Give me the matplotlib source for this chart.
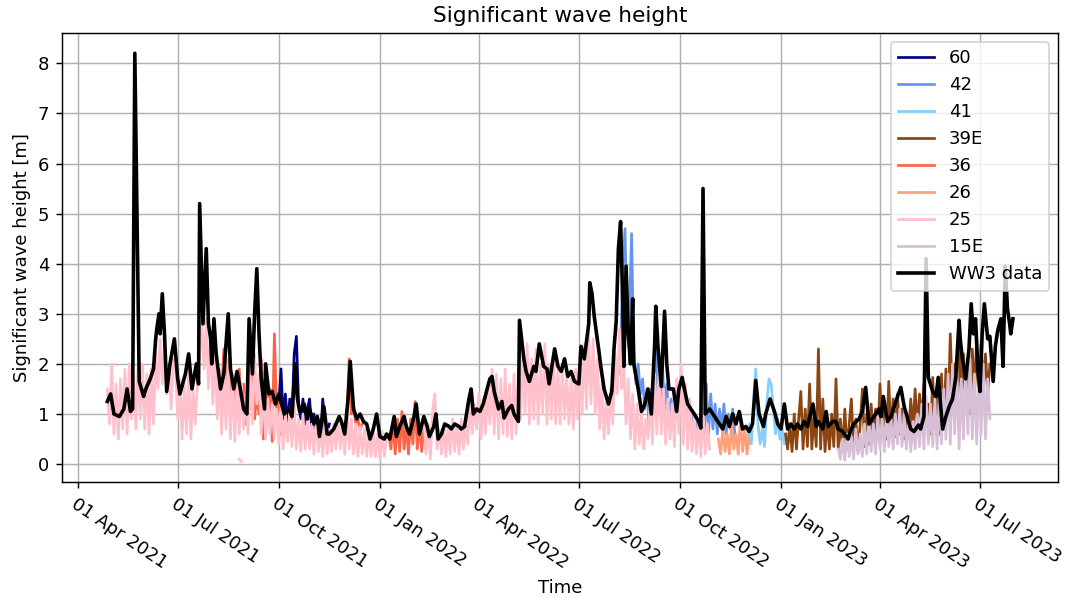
import numpy as np
import pandas as pd
import matplotlib
matplotlib.use("Agg")
import matplotlib.pyplot as plt
import matplotlib.dates as mdates

# all series are counted in days from the first WW3 record
t0 = pd.Timestamp("2021-04-28")
step = 2  # buoy records are resampled to one value every 2 days

# WW3 model hindcast (day offset, Hs in m)
ww3_days = [0, 3, 6, 11, 15, 18, 21, 23, 25, 29,
            33, 35, 39, 42, 44, 45, 47, 48, 50, 52,
            54, 57, 61, 64, 66, 71, 74, 77, 81, 83,
            84, 87, 90, 92, 94, 95, 97, 99, 103, 106,
            110, 112, 115, 118, 121, 124, 127, 129, 132, 134,
            136, 138, 140, 143, 144, 147, 150, 153, 156, 161,
            165, 168, 171, 173, 175, 179, 182, 184, 188, 191,
            193, 197, 200, 202, 206, 211, 213, 216, 219, 221,
            224, 227, 230, 233, 236, 239, 242, 245, 248, 252,
            254, 257, 261, 263, 266, 270, 272, 275, 279, 281,
            284, 288, 291, 293, 297, 299, 301, 304, 307, 311,
            313, 316, 320, 322, 325, 329, 331, 333, 336, 339,
            342, 345, 348, 350, 352, 356, 359, 361, 365, 368,
            370, 374, 375, 379, 381, 384, 388, 390, 393, 397,
            400, 402, 406, 407, 410, 413, 416, 419, 422, 425,
            429, 431, 434, 438, 439, 441, 443, 447, 449, 452,
            456, 459, 461, 463, 465, 467, 469, 470, 472, 474,
            476, 478, 479, 483, 486, 489, 492, 495, 498, 499,
            501, 504, 507, 509, 511, 515, 518, 520, 523, 526,
            528, 531, 534, 538, 540, 542, 544, 548, 551, 554,
            557, 560, 563, 566, 569, 572, 575, 578, 581, 584,
            587, 590, 593, 597, 599, 603, 607, 610, 613, 616,
            619, 622, 625, 628, 631, 634, 637, 642, 645, 647,
            651, 654, 656, 660, 663, 665, 669, 674, 676, 679,
            684, 687, 690, 693, 696, 699, 702, 704, 706, 710,
            713, 716, 719, 722, 725, 729, 731, 734, 738, 740,
            743, 745, 747, 751, 754, 756, 760, 763, 766, 769,
            772, 775, 776, 778, 781, 784, 786, 788, 790, 792,
            794, 796, 798, 801, 803, 806, 808, 810, 813, 815,
            817, 819, 821, 822, 824]
ww3_hs = [1.25, 1.4, 1.0, 0.95, 1.1, 1.5, 1.05, 1.1, 8.2, 1.65,
          1.35, 1.5, 1.7, 1.9, 2.5, 2.7, 3.0, 2.6, 3.4, 2.6,
          1.45, 2.0, 2.5, 1.7, 1.4, 1.8, 2.2, 1.5, 2.0, 1.6,
          5.2, 2.8, 4.3, 2.8, 2.5, 2.0, 2.9, 2.2, 1.5, 1.8,
          3.0, 1.9, 1.5, 1.85, 1.5, 1.1, 1.0, 2.9, 1.8, 3.0,
          3.9, 2.6, 1.7, 1.1, 2.0, 1.4, 1.45, 1.2, 1.4, 1.0,
          1.1, 0.95, 2.0, 1.3, 1.05, 1.2, 0.9, 1.1, 0.8, 0.95,
          0.55, 1.15, 0.6, 0.6, 0.7, 0.95, 0.85, 0.6, 1.3, 2.05,
          1.1, 0.9, 1.0, 0.85, 0.8, 0.5, 0.7, 1.0, 0.55, 0.5,
          0.6, 0.5, 0.95, 0.55, 0.75, 0.95, 0.75, 0.6, 0.95, 1.2,
          0.6, 0.95, 0.75, 0.55, 0.75, 1.0, 0.5, 0.6, 0.8, 0.75,
          0.7, 0.8, 0.75, 0.7, 0.75, 1.3, 1.5, 1.0, 1.1, 1.05,
          1.2, 1.45, 1.7, 1.75, 1.45, 1.1, 1.25, 0.92, 1.1, 1.17,
          1.0, 0.85, 2.87, 2.1, 1.85, 1.65, 1.95, 1.85, 2.4, 1.95,
          1.9, 1.6, 2.15, 2.3, 1.95, 1.85, 2.1, 1.75, 1.85, 1.65,
          1.6, 2.35, 2.1, 2.8, 3.62, 3.4, 2.95, 2.3, 1.95, 1.5,
          1.2, 1.45, 2.3, 2.85, 4.3, 4.84, 3.2, 1.95, 3.95, 2.6,
          2.0, 3.3, 2.0, 1.5, 1.05, 1.2, 1.5, 1.0, 2.4, 3.15,
          2.35, 1.55, 3.05, 2.0, 1.5, 1.5, 1.05, 1.5, 1.73, 1.4,
          1.2, 1.1, 1.0, 0.85, 0.72, 5.5, 1.0, 1.1, 1.0, 0.9,
          0.8, 0.7, 0.95, 0.75, 1.0, 0.8, 1.05, 0.7, 0.75, 0.65,
          0.8, 1.67, 1.0, 0.75, 1.0, 1.3, 1.05, 0.8, 0.7, 1.2,
          0.7, 0.8, 0.7, 0.8, 0.7, 0.85, 0.75, 1.2, 0.75, 0.85,
          0.7, 1.05, 0.75, 0.85, 0.85, 0.7, 0.65, 0.5, 0.65, 0.8,
          0.9, 1.05, 1.53, 0.8, 0.9, 1.0, 1.1, 0.95, 1.35, 0.85,
          0.95, 1.15, 1.35, 1.53, 1.15, 0.85, 0.7, 0.65, 0.78, 0.7,
          0.95, 4.1, 1.73, 1.45, 1.35, 1.73, 0.7, 0.95, 1.15, 1.3,
          1.73, 2.87, 2.5, 2.1, 1.7, 2.3, 3.2, 2.6, 2.9, 1.9,
          1.45, 2.6, 3.2, 2.5, 2.55, 1.65, 2.35, 2.65, 2.9, 1.95,
          3.95, 3.1, 2.8, 2.6, 2.9]

# buoy 60
start_60 = 156
hs_60 = [1.2, 1.9, 0.9, 1.4, 0.8, 1.3, 0.9, 2.2, 2.55, 1.2,
         0.9, 1.3, 0.8, 1.1, 1.3, 0.7, 1.0, 0.6, 0.9, 0.5,
         1.3, 0.7, 0.6, 0.8]

# buoy 42
start_42 = 465
hs_42 = [1.8, 2.2, 4.0, 4.7, 2.6, 3.0, 4.6, 2.2, 1.6, 2.0,
         1.4, 1.7, 1.1, 1.5, 0.75, 1.5, 1.0, 2.5, 1.3, 1.2,
         2.0, 1.1, 1.6, 0.9, 1.3, 0.8, 1.2, 0.9, 1.4, 1.1,
         1.3, 0.9, 1.1, 0.8, 1.0, 0.7, 0.9, 0.6, 1.0, 0.5,
         1.6, 0.6, 1.4, 0.7, 1.2, 0.6, 1.1, 0.7, 1.2, 0.6,
         1.0, 0.7, 1.1, 0.6]

# buoy 41
start_41 = 580
hs_41 = [0.5, 0.3, 0.8, 0.4, 1.3, 1.9, 0.8, 0.4, 0.7, 0.35,
         1.2, 1.7, 1.6, 1.1, 0.6, 0.9, 0.5, 0.7, 0.4, 0.6]

# buoy 39E
start_39e = 617
hs_39e = [0.6, 0.3, 0.8, 0.25, 1.0, 0.3, 0.9, 1.45, 0.3, 1.1, 0.35, 1.6, 0.3, 1.0, 0.35,
          2.3, 0.3, 1.3, 0.25, 0.9, 0.3, 1.0, 0.35, 1.7, 0.3, 0.9, 0.25, 1.1, 0.3, 0.8,
          1.3, 0.3, 0.9, 0.25, 0.8, 1.5, 0.35, 1.0, 0.4, 1.2, 0.45, 1.1, 0.5, 1.6, 0.6,
          1.2, 0.5, 1.65, 0.6, 1.3, 0.55, 1.4, 0.6, 1.1, 0.5, 1.0, 0.6, 1.3, 0.7, 1.5,
          0.7, 1.4, 0.8, 1.6, 0.9, 1.2, 0.6, 1.73, 0.7, 1.5, 0.6, 1.8, 0.7, 1.9, 1.0,
          2.6, 1.2, 2.0, 1.1, 2.4, 1.3, 2.2, 1.2, 1.9, 1.0, 2.3, 1.4, 2.5, 1.3, 2.4,
          1.5, 2.2, 1.4, 2.0]

# buoy 36 (three deployments)
start_36a = 104
hs_36a = [1.4, 2.3, 2.0, 1.2, 1.7, 1.0, 1.6, 1.3, 1.9, 1.0,
          1.6, 0.8, 1.5, 1.1, 2.0, 0.9, 1.4, 1.0, 2.1, 0.5,
          1.7, 0.8, 1.5, 0.45, 2.6, 1.0, 1.4, 0.6]
start_36b = 218
hs_36b = [0.9, 2.1, 1.0, 1.2, 0.8, 0.9, 0.7, 0.8]
start_36c = 256
hs_36c = [0.6, 0.3, 0.8, 0.2, 0.9, 0.25, 1.05, 0.3, 0.8, 0.2,
          0.9, 0.4, 1.25, 0.3, 0.8, 0.25, 0.7, 0.3, 0.6]

# buoy 26
start_26 = 556
hs_26 = [0.5, 0.2, 0.7, 0.25, 0.6, 0.2, 0.8, 0.3, 0.6, 0.2,
         0.9, 0.25, 0.7, 0.2, 0.5]

# buoy 25 (gap in Jan 2022 while 36 was deployed)
nan = np.nan
start_25 = 0
hs_25 = [1.5, 0.8, 2.0, 0.6, 1.6, 0.5, 1.7, 0.7, 1.9, 0.6, 2.0, 0.9, 1.8, 0.7, 2.0, 0.9,
         2.0, 0.7, 1.8, 0.6, 1.9, 0.8, 2.2, 1.5, 2.5, 1.6, 2.4, 1.4, 2.0, 1.1, 2.1,
         1.9, 0.9, 1.7, 0.5, 1.6, 0.6, 1.9, 0.5, 1.5, 0.8, 1.6, 2.2, 2.8, 1.9, 2.9,
         1.5, 2.6, 1.2, 2.3, 0.9, 1.9, 0.6, 2.0, 0.7, 2.1, 0.5, 1.8, 0.45, 1.7, 0.6,
         1.6, 0.7, 1.4, 0.6, 1.9, 0.8, 2.2, 1.2, 1.8, 0.6, 1.5, 0.5, 1.3, 0.6, 1.2,
         0.5, 1.1, 0.4, 1.2, 0.3, 1.0, 0.45, 1.1, 0.35, 1.2, 0.3, 0.9, 0.25, 1.0, 0.3,
         0.9, 0.3, 0.8, 0.2, 0.9, 0.25, 0.7, 0.15, 0.85, 0.2, 0.7, 0.25, 0.8, 0.3, 0.9,
         0.3, 0.8, 0.2, 1.1, 0.3, 0.9, 0.2, 0.8, 0.15, 0.75, 0.2, 0.7, 0.15, 0.6, 0.15,
         0.7, 0.15, 0.6, 0.1, 0.65, 0.15, 0.5, nan, nan, nan, nan, nan, nan, nan, nan,
         nan, nan, nan, nan, nan, nan, nan, nan,
         0.9, 0.2, 0.8, 0.1, 1.1, 1.4, 0.3, 0.7, 0.2, 0.8, 0.15, 0.75, 0.2, 0.9, 0.25,
         0.8, 0.2, 0.9, 0.3, 0.8, 0.4, 1.3, 0.6, 1.2, 0.7, 1.4, 0.5, 1.3, 0.6, 1.6, 0.8, 1.9,
         0.6, 1.8, 0.5, 1.7, 0.6, 1.9, 0.55, 1.6, 0.5, 1.8, 0.6, 1.9, 0.9, 2.2, 1.0,
         2.4, 0.8, 2.1, 0.9, 2.3, 0.8, 2.0, 1.0, 2.4, 0.8, 2.0, 0.9, 2.2, 0.8, 1.9,
         0.8, 2.0, 0.9, 1.8, 0.8, 1.7, 0.7, 1.9, 0.9, 2.2, 1.0, 2.4, 1.1, 2.6, 1.2,
         2.5, 1.0, 2.1, 0.7, 1.6, 0.5, 1.3, 0.6, 1.5, 0.8, 2.2, 1.4, 2.7, 1.5, 2.0,
         0.8, 1.7, 0.5, 1.4, 0.3, 1.2, 0.4, 1.0, 0.3, 0.9, 0.5, 1.3, 0.4, 1.8, 0.6,
         1.9, 0.6, 1.5, 0.4, 1.3, 0.5, 1.2, 0.35, 1.7, 0.6, 2.0, 0.4, 1.6, 0.3, 1.3,
         0.25, 1.0, 0.2, 0.9, 0.15, 1.1, 0.2, 0.8, 0.3]
start_25b = 120
hs_25b = [0.1, 0.05]

# buoy 15E
start_15e = 665
hs_15e = [0.3, 0.1, 0.5, 0.08, 0.6, 0.15, 0.55, 0.1, 0.7, 0.2, 0.6, 0.15, 0.8, 0.2, 0.9,
          0.25, 0.8, 0.2, 0.95, 0.3, 0.9, 0.25, 1.05, 0.35, 0.9, 0.3, 1.0, 0.4, 1.1, 0.35,
          1.0, 0.3, 0.9, 0.25, 0.85, 0.3, 1.0, 0.35, 1.2, 0.3, 1.35, 0.4, 1.2, 0.35, 1.3,
          0.3, 1.35, 0.4, 1.5, 0.5, 1.8, 0.4, 2.0, 0.6, 1.9, 0.3, 1.7, 0.5, 2.0, 0.6,
          2.1, 0.5, 1.8, 0.4, 1.9, 0.6, 2.0, 0.5, 1.7, 0.9]


def buoy_dates(start, values):
    return t0 + pd.to_timedelta(start + step * np.arange(len(values)), unit="D")


buoys = [
    ("60", "navy", [(start_60, hs_60)]),
    ("42", "cornflowerblue", [(start_42, hs_42)]),
    ("41", "lightskyblue", [(start_41, hs_41)]),
    ("39E", "saddlebrown", [(start_39e, hs_39e)]),
    ("36", "tomato", [(start_36a, hs_36a), (start_36b, hs_36b), (start_36c, hs_36c)]),
    ("26", "lightsalmon", [(start_26, hs_26)]),
    ("25", "pink", [(start_25, hs_25), (start_25b, hs_25b)]),
    ("15E", "thistle", [(start_15e, hs_15e)]),
]

fig = plt.figure(figsize=(1070 / 130, 598 / 130), dpi=130)
ax = fig.add_axes([0.058, 0.194, 0.931, 0.751])

for name, color, segments in buoys:
    for i, (start, values) in enumerate(segments):
        ax.plot(buoy_dates(start, values), values, color=color,
                label=name if i == 0 else None)

ww3_time = t0 + pd.to_timedelta(ww3_days, unit="D")
ax.plot(ww3_time, ww3_hs, color="black", lw=2, label="WW3 data")

ax.xaxis.set_major_locator(mdates.MonthLocator(bymonth=[1, 4, 7, 10]))
ax.xaxis.set_major_formatter(mdates.DateFormatter("%d %b %Y"))
plt.setp(ax.get_xticklabels(), rotation=-34, ha="left", rotation_mode="anchor")

ax.grid(True)
ax.set_title("Significant wave height")
ax.set_xlabel("Time")
ax.set_ylabel("Significant wave height [m]")
ax.legend(loc="upper right")

fig.savefig("out.png", dpi=130)
